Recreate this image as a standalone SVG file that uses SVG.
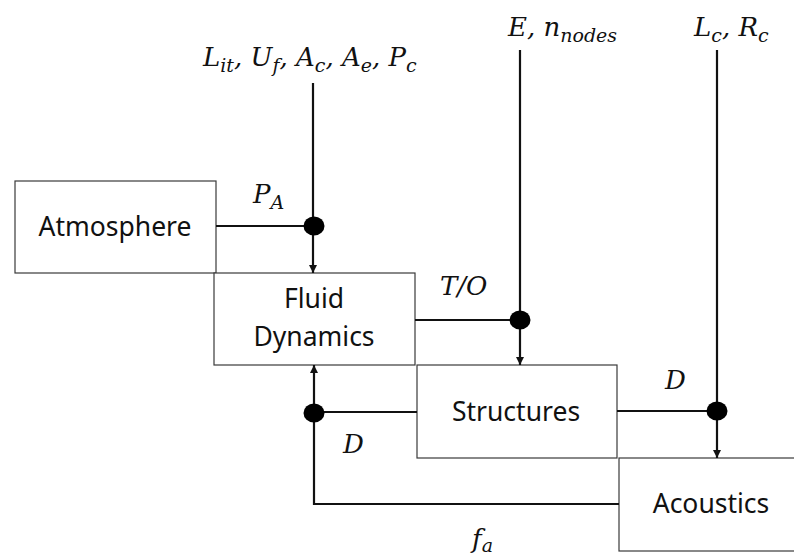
<svg xmlns="http://www.w3.org/2000/svg" width="794" height="558" viewBox="0 0 794 558">
<style>
.box{fill:#fff;stroke:#3a3a3a;stroke-width:1.2}
.lbl{font-family:"Noto Sans","Open Sans",sans-serif;font-size:26.5px;fill:#111;text-anchor:middle}
.m{font-family:"DejaVu Serif","Liberation Serif",serif;font-style:italic;font-size:26px;fill:#111}
.s{font-size:19px}
.c{fill:none;stroke:#111;stroke-width:2.2}
.dot{fill:#000}
</style>
<defs>
<marker id="ah" viewBox="0 0 10 10" refX="10" refY="5" markerWidth="9" markerHeight="8" markerUnits="userSpaceOnUse" orient="auto">
<path d="M0,0 L10,5 L0,10 z" fill="#111"/>
</marker>
</defs>
<g id="atmosphere"><rect class="box" x="15" y="181" width="201" height="92"/><text class="lbl" x="115" y="236">Atmosphere</text></g>
<g id="fluid"><rect class="box" x="214" y="273" width="201" height="92"/><text class="lbl" x="314" y="308">Fluid</text><text class="lbl" x="314" y="346">Dynamics</text></g>
<g id="structures"><rect class="box" x="417" y="365" width="200" height="93"/><text class="lbl" x="516" y="421">Structures</text></g>
<g id="acoustics"><rect class="box" x="619" y="458" width="200" height="93"/><text class="lbl" x="711" y="513">Acoustics</text></g>
<g id="connectors">
<path class="c" d="M313,83 V273" marker-end="url(#ah)"/>
<path class="c" d="M216,226 H313"/>
<path class="c" d="M520,50 V365" marker-end="url(#ah)"/>
<path class="c" d="M415,320 H520"/>
<path class="c" d="M717,50 V458" marker-end="url(#ah)"/>
<path class="c" d="M617,411 H717"/>
<path class="c" d="M417,412 H314"/>
<path class="c" d="M619,504 H314 V365" marker-end="url(#ah)"/>
<ellipse class="dot" cx="314" cy="226" rx="10.5" ry="9.5"/>
<ellipse class="dot" cx="520" cy="320" rx="10.5" ry="9.5"/>
<ellipse class="dot" cx="717" cy="411" rx="10.5" ry="9.5"/>
<ellipse class="dot" cx="314" cy="413" rx="10.5" ry="9.5"/>
</g>
<g id="labels">
<text class="m" x="203" y="66">L<tspan class="s" dy="6">it</tspan><tspan dy="-6">, U</tspan><tspan class="s" dy="6">f</tspan><tspan dy="-6">, A</tspan><tspan class="s" dy="6">c</tspan><tspan dy="-6">, A</tspan><tspan class="s" dy="6">e</tspan><tspan dy="-6">, P</tspan><tspan class="s" dy="6">c</tspan></text>
<text class="m" x="508" y="36">E, n<tspan class="s" dy="6">nodes</tspan></text>
<text class="m" x="694" y="36">L<tspan class="s" dy="6">c</tspan><tspan dy="-6">, R</tspan><tspan class="s" dy="6">c</tspan></text>
<text class="m" x="253" y="203">P<tspan class="s" dy="6">A</tspan></text>
<text class="m" x="440" y="295">T/O</text>
<text class="m" x="665" y="389">D</text>
<text class="m" x="343" y="453">D</text>
<text class="m" x="472" y="548">f<tspan class="s" dy="4">a</tspan></text>
</g>
</svg>
